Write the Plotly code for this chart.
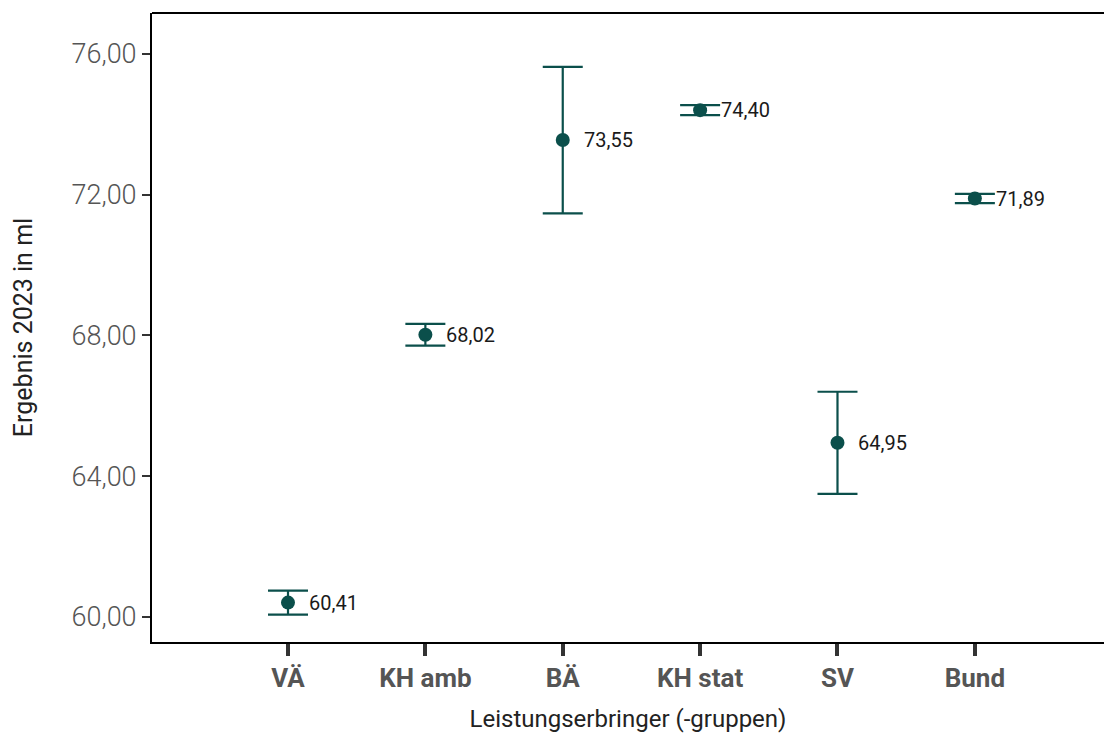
import plotly.graph_objects as go

# Ergebnisse 2023 je Leistungserbringer(-gruppe) mit Konfidenzintervall
categories = ["VÄ", "KH amb", "BÄ", "KH stat", "SV", "Bund"]
values = [60.41, 68.02, 73.55, 74.40, 64.95, 71.89]
ci_half = [0.34, 0.31, 2.08, 0.14, 1.45, 0.13]
y_ticks = [60, 64, 68, 72, 76]
y_tick_labels = ["60,00", "64,00", "68,00", "72,00", "76,00"]

teal = "#0b4f4b"
x_pos = list(range(len(categories)))

fig = go.Figure()
fig.add_trace(go.Scatter(
    x=x_pos,
    y=values,
    mode="markers",
    marker=dict(color=teal, size=14),
    error_y=dict(type="data", array=ci_half, visible=True,
                 color=teal, thickness=2.2, width=20),
    showlegend=False,
    hoverinfo="skip",
))

# Wertebeschriftung rechts neben jedem Punkt
for xi, v in zip(x_pos, values):
    fig.add_annotation(
        x=xi, y=v, text=f"{v:.2f}".replace(".", ","),
        showarrow=False, xanchor="left", yanchor="middle",
        xshift=19, font=dict(family="Roboto", size=20, color="#1a1a1a"),
    )

# obere Rahmenlinie
fig.add_shape(type="line", xref="paper", yref="paper",
              x0=0, x1=1, y0=1, y1=1, line=dict(color="black", width=2))

fig.update_layout(
    width=1104, height=738,
    margin=dict(l=152, r=0, t=13, b=96),
    paper_bgcolor="white", plot_bgcolor="white",
    font=dict(family="Roboto", color="#555555"),
    xaxis=dict(
        range=[-0.99, 5.94],
        tickmode="array", tickvals=x_pos,
        ticktext=[f"<b>{c}</b>" for c in categories],
        tickfont=dict(family="Roboto", size=26, color="#555555"),
        ticks="outside", ticklen=12, tickwidth=4, tickcolor="#333333",
        showline=True, linecolor="black", linewidth=2,
        showgrid=False, zeroline=False,
        title=dict(text="Leistungserbringer (-gruppen)",
                   font=dict(family="Roboto", size=24, color="#222222"),
                   standoff=18),
    ),
    yaxis=dict(
        range=[59.29, 77.16],
        tickmode="array", tickvals=y_ticks, ticktext=y_tick_labels,
        tickfont=dict(family="Roboto", size=27, color="#555555", weight=300),
        ticks="outside", ticklen=8, tickwidth=2, tickcolor="#333333",
        showline=True, linecolor="black", linewidth=2,
        showgrid=False, zeroline=False,
        title=dict(text="Ergebnis 2023 in ml",
                   font=dict(family="Roboto", size=25, color="#222222"),
                   standoff=32),
    ),
)

fig.write_html("out.html")
